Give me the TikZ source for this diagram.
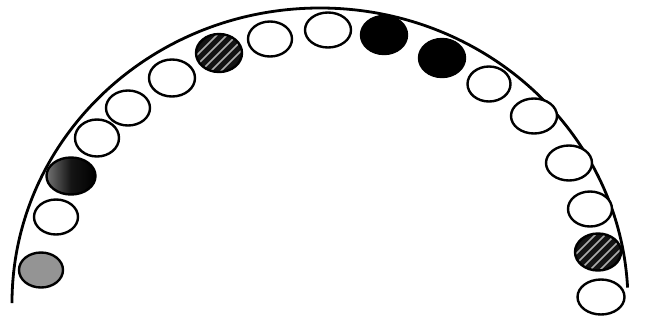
\documentclass[tikz,border=0pt]{standalone}
\usetikzlibrary{shapes.geometric}
\tikzset{
  bead/.style={ellipse, draw=black, line width=2.4pt, inner sep=0pt, fill=white,
    minimum width=44pt, minimum height=35pt},
  hatched/.style={bead, fill=black!92,
    path picture={\foreach \k in {-80,-70,...,80}
      \draw[gray!65, line width=1.5pt]
        ([shift={(\k pt,0pt)}]path picture bounding box.center) ++(-35pt,-35pt) -- ++(70pt,70pt);}},
  solid/.style={bead, fill=black},
  stipple/.style={bead, fill=black!42},
  dark/.style={bead, left color=black!55, right color=black, middle color=black!92, shading angle=90},
  dome/.style={line width=2.8pt}
}
\begin{document}
\begin{tikzpicture}[x=1pt,y=-1pt]
\useasboundingbox (0,0) rectangle (655,322);
\draw[dome] ([shift={(320,303)}]180:308 and 295) arc[start angle=180, end angle=357, x radius=308, y radius=295];
\node[stipple] (e1) at (41,270) {};
\node[bead] (e2) at (56,217) {};
\node[dark, minimum width=49pt, minimum height=37pt] (e3) at (71,176) {};
\node[bead, minimum height=37pt] (e4) at (97,138) {};
\node[bead] (e5) at (128,108) {};
\node[bead, minimum width=46pt, minimum height=37pt] (e6) at (172,78) {};
\node[hatched, minimum width=46pt, minimum height=38pt] (e7) at (219,53) {};
\node[bead] (e8) at (270,39) {};
\node[bead, minimum width=46pt] (e9) at (328,30) {};
\node[solid, minimum width=46pt, minimum height=38pt] (e10) at (384,35) {};
\node[solid, minimum width=46pt, minimum height=38pt] (e11) at (442,58) {};
\node[bead, minimum width=43pt] (e12) at (489,84) {};
\node[bead, minimum width=46pt] (e13) at (534,116) {};
\node[bead, minimum width=46pt] (e14) at (569,163) {};
\node[bead] (e15) at (590,209) {};
\node[hatched, minimum width=46pt, minimum height=37pt] (e16) at (598,252) {};
\node[bead, minimum width=47pt] (e17) at (601,297) {};
\end{tikzpicture}
\end{document}
